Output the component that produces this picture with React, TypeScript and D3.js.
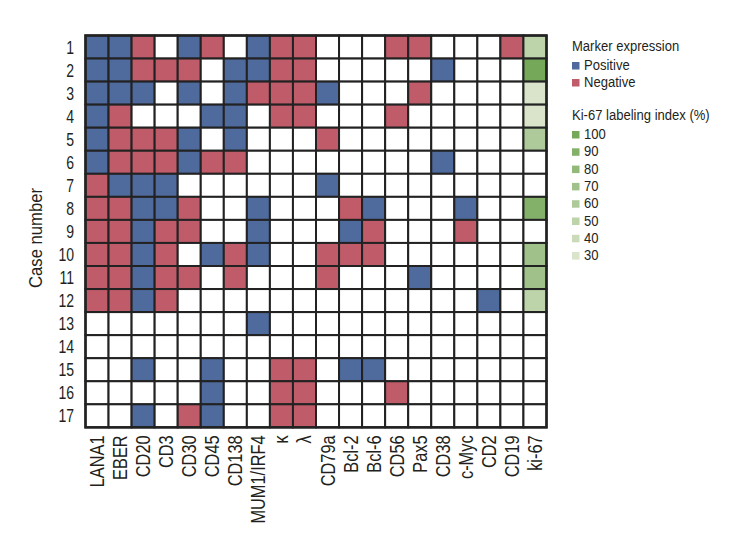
import React from "react";
import * as d3 from "d3";

const markers = ["LANA1","EBER","CD20","CD3","CD30","CD45","CD138","MUM1/IRF4","κ","λ","CD79a","Bcl-2","Bcl-6","CD56","Pax5","CD38","c-Myc","CD2","CD19","ki-67"];
const cases = ["1","2","3","4","5","6","7","8","9","10","11","12","13","14","15","16","17"];
// P = positive, N = negative, . = not done (19 markers, ki-67 separately)
const expression = [
  "PPN.PN.PNN...NN...N",
  "PPNNN.PPNN.....P...",
  "PPP.P.PNNNP...N....",
  "PN...PP.NN...N.....",
  "PNNNP.P...N........",
  "PNNNPNN........P...",
  "NPPP......P........",
  "NNPPN..P...NP...P..",
  "NNPNN..P...PN...N..",
  "NNPN.PNP..NNN......",
  "NNPNN.N...N...P....",
  "NNPN.............P.",
  ".......P...........",
  "...................",
  "..P..P..NN.PP......",
  ".....P..NN...N.....",
  "..P.NP..NN.........",
];
const ki67 = [50, 100, 30, 30, 60, 0, 0, 90, 0, 70, 70, 50, 0, 0, 0, 0, 0];
const ki67Levels = [100, 90, 80, 70, 60, 50, 40, 30];

const BLUE = "#4f6a9d";
const RED = "#c05c6a";
const greenScale = d3.scaleLinear<string>().domain([30, 100]).range(["#d9e4ca", "#76a85a"]);

const FONT = "'Liberation Sans', Arial, sans-serif";

function T({ x, y, rot = 0, sx = 0.82, size, anchor = "start", children, len }: any) {
  return (
    <g transform={`translate(${x},${y}) rotate(${rot}) scale(${sx},1)`}>
      <text x={0} y={0} fontSize={size} textAnchor={anchor} fill="#231f20" fontFamily={FONT}
        {...(len ? { textLength: len / sx, lengthAdjust: "spacingAndGlyphs" } : {})}>{children}</text>
    </g>
  );
}

export default function App() {
  const W = 732, H = 549;
  const left = 85.5, top = 35.5, cw = 23.05, rh = 23.05;
  const x = d3.scaleBand().domain(markers).range([left, left + cw * markers.length]);
  const y = d3.scaleBand().domain(cases).range([top, top + rh * cases.length]);
  const cells: any[] = [];
  cases.forEach((c, ri) => {
    markers.forEach((m, ci) => {
      let fill = "#fff";
      if (ci < 19) {
        const v = expression[ri][ci];
        if (v === "P") fill = BLUE; else if (v === "N") fill = RED;
      } else {
        const k = ki67[ri];
        if (k > 0) fill = greenScale(k);
      }
      cells.push(<rect key={c + m} x={x(m)} y={y(c)} width={x.bandwidth()} height={y.bandwidth()} fill={fill} stroke="#222" strokeWidth={2} />);
    });
  });
  const legX = 572;
  const bottom = top + rh * cases.length;
  return (
    <svg width={W} height={H} style={{ position: "absolute", left: 0, top: 0, background: "#fff" }}>
      <rect width={W} height={H} fill="#fff" />
      {cells}
      <rect x={left} y={top} width={cw * markers.length} height={rh * cases.length} fill="none" stroke="#222" strokeWidth={2.5} />
      {cases.map(c => (
        <T key={c} x={74} y={(y(c) as number) + y.bandwidth() / 2 + 6.5} size={18} sx={0.78} anchor="end">{c}</T>
      ))}
      {markers.map(m => (
        <T key={m} x={(x(m) as number) + x.bandwidth() / 2 + 7} y={bottom + 8} rot={-90} size={20} sx={0.82} anchor="end">{m}</T>
      ))}
      <T x={42} y={238} rot={-90} size={18} sx={0.85} anchor="middle" len={100}>Case number</T>
      <T x={legX} y={51} size={15} sx={0.87}>Marker expression</T>
      <rect x={legX} y={62} width={7.5} height={7.5} fill={BLUE} />
      <T x={legX + 12} y={70} size={15} sx={0.87}>Positive</T>
      <rect x={legX} y={79} width={7.5} height={7.5} fill={RED} />
      <T x={legX + 12} y={87} size={15} sx={0.87}>Negative</T>
      <T x={legX} y={120} size={15} sx={0.87}>Ki-67 labeling index (%)</T>
      {ki67Levels.map((k, i) => (
        <g key={k}>
          <rect x={legX} y={131 + i * 17.3} width={7.5} height={7.5} fill={greenScale(k)} />
          <T x={legX + 12} y={139 + i * 17.3} size={15} sx={0.87}>{k}</T>
        </g>
      ))}
    </svg>
  );
}
